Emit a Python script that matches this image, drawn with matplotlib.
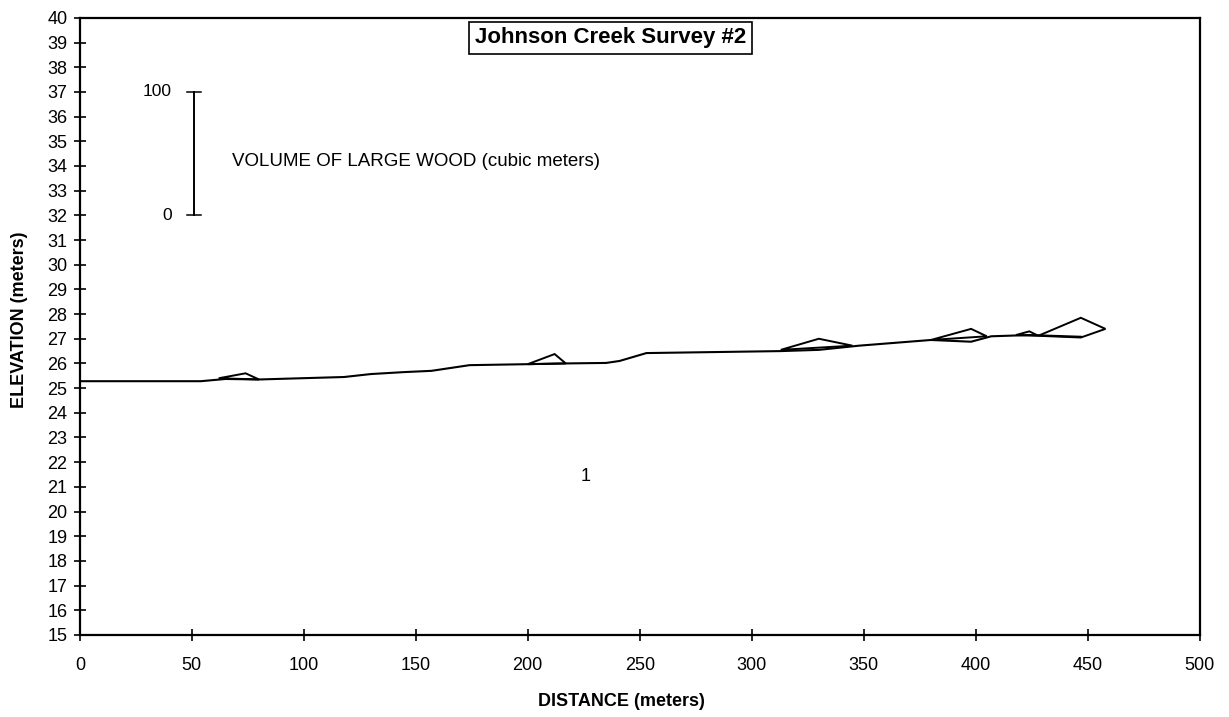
import numpy as np
import matplotlib.pyplot as plt

plt.rcParams['font.family'] = ['Liberation Sans', 'DejaVu Sans']

# stream bed profile (distance m, elevation m)
dist = [0, 54, 65, 80, 118, 130, 145, 157, 174, 200, 217, 235, 241, 250, 253,
        313, 330, 348, 380, 398, 407, 424, 447]
elev = [25.28, 25.28, 25.37, 25.35, 25.45, 25.57, 25.65, 25.7, 25.93, 25.97,
        26.0, 26.02, 26.1, 26.34, 26.42, 26.5, 26.55, 26.72, 26.95, 26.88,
        27.1, 27.15, 27.08]

# large wood pieces drawn as outlines sitting on the profile
wood_x = [[62, 74, 80],
          [200, 212, 217],
          [313, 330, 345],
          [380, 398, 405],
          [418, 424, 428],
          [428, 447, 458, 447]]
wood_y = [[25.4, 25.6, 25.35],
          [25.97, 26.38, 26.0],
          [26.55, 27.0, 26.72],
          [26.95, 27.4, 27.1],
          [27.15, 27.3, 27.12],
          [27.12, 27.85, 27.4, 27.05]]

# volume scale bar: 0..100 cubic meters
SCALE_X = 51
SCALE_BOTTOM = 32
SCALE_TOP = 37

fig = plt.figure(figsize=(12.29, 7.17), dpi=100)
ax = fig.add_axes([0.065, 0.1145, 0.911, 0.8605])

ax.plot(dist, elev, color='black', lw=1.5)
for wx, wy in zip(wood_x, wood_y):
    ax.fill(wx, wy, facecolor='none', edgecolor='black', lw=1.4)

# scale bar
ax.plot([SCALE_X, SCALE_X], [SCALE_BOTTOM, SCALE_TOP], color='black', lw=1.4)
ax.plot([SCALE_X - 3, SCALE_X + 3], [SCALE_TOP, SCALE_TOP], color='black', lw=1.1)
ax.plot([SCALE_X - 3, SCALE_X + 3], [SCALE_BOTTOM, SCALE_BOTTOM], color='black', lw=1.1)
ax.text(SCALE_X - 10, SCALE_TOP, '100', ha='right', va='center', fontsize=12.5)
ax.text(SCALE_X - 10, SCALE_BOTTOM, '0', ha='right', va='center', fontsize=12.5)
ax.text(68, 34.2, 'VOLUME OF LARGE WOOD (cubic meters)', ha='left', va='center',
        fontsize=13.5)

ax.text(237, 39.2, 'Johnson Creek Survey #2', ha='center', va='center',
        fontsize=16, fontweight='bold',
        bbox=dict(boxstyle='square,pad=0.25', facecolor='white',
                  edgecolor='black', lw=1.2))
ax.text(226, 21.4, '1', ha='center', va='center', fontsize=13)

ax.set_xlim(0, 500)
ax.set_ylim(15, 40)
ax.set_xticks(np.arange(0, 501, 50))
ax.set_yticks(np.arange(15, 41, 1))
ax.tick_params(direction='inout', length=8, width=1.2, labelsize=13,
               colors='black')
ax.tick_params(axis='y', pad=5)
ax.tick_params(axis='x', pad=12)
for s in ax.spines.values():
    s.set_linewidth(1.6)

ax.set_xlabel('DISTANCE (meters)', fontsize=13, fontweight='bold')
ax.set_ylabel('ELEVATION (meters)', fontsize=13, fontweight='bold')
ax.xaxis.set_label_coords(0.484, -0.094)
ax.yaxis.set_label_coords(-0.046, 0.51)

fig.savefig('out.png', dpi=100)
